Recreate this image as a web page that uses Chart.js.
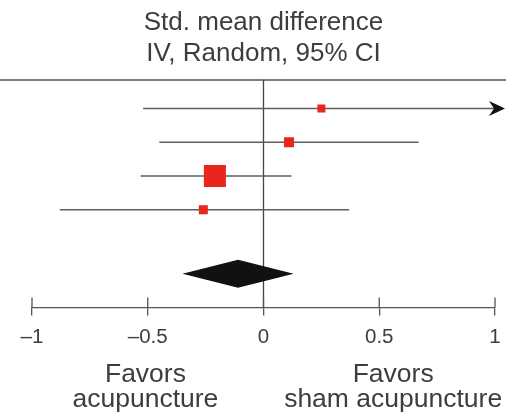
<!DOCTYPE html>
<html lang="en">
<head>
  <meta charset="UTF-8">
  <title>Forest plot</title>
  <script src="https://cdn.jsdelivr.net/npm/chart.js"></script>
  <style>
    html, body {
      margin: 0;
      padding: 0;
      background: #ffffff;
    }
    .wrap {
      position: relative;
      width: 506px;
      height: 412px;
    }
  </style>
</head>
<body>

<div class="wrap">
  <canvas id="forest"></canvas>
</div>

<script>
  // study rows (top to bottom)
  const rows = [1, 2, 3, 4];
  const estimates = [0.25, 0.11, -0.21, -0.26];
  const lowerCI = [-0.52, -0.45, -0.53, -0.88];
  const upperCI = [1.10, 0.67, 0.12, 0.37];   // first one runs off the scale
  const boxSide = [8, 10, 22, 9];             // weight squares, px

  // pooled estimate: lower, estimate, upper
  const pooledCI = [-0.35, -0.11, 0.13];
  const pooledRow = 5.9;

  const xTicks = [-1, -0.5, 0, 0.5, 1];
  const titleLines = ['Std. mean difference', 'IV, Random, 95% CI'];
  const favorLeft = ['Favors', 'acupuncture'];
  const favorRight = ['Favors', 'sham acupuncture'];
  const favorAt = [-0.51, 0.56];

  const textColor = '#3d3d3d';
  const fontName = '"Liberation Sans", Arial, Helvetica, sans-serif';

  const xMin = -1, xMax = 1;

  let datasets = [];
  // red squares on top
  datasets.push({
    type: 'scatter',
    data: rows.map((r, i) => ({x: estimates[i], y: r})),
    pointStyle: 'rect',
    pointRadius: boxSide.map(s => s / Math.SQRT2),
    pointBackgroundColor: 'rgb(232, 38, 28)',
    pointBorderWidth: 0,
    order: 0
  });
  // CI lines
  rows.forEach((r, i) => {
    datasets.push({
      type: 'line',
      data: [{x: lowerCI[i], y: r}, {x: Math.min(upperCI[i], xMax), y: r}],
      borderColor: '#5e5e5e',
      borderWidth: 1.5,
      pointRadius: 0,
      clip: false,
      order: 1
    });
  });

  const forestExtras = {
    id: 'forestExtras',
    beforeDatasetsDraw(chart) {
      const ctx = chart.ctx;
      const area = chart.chartArea;
      const xs = chart.scales.x;
      ctx.save();
      // top rule across the whole figure
      ctx.strokeStyle = '#555';
      ctx.lineWidth = 1.5;
      ctx.beginPath();
      ctx.moveTo(0, area.top);
      ctx.lineTo(chart.width, area.top);
      ctx.stroke();
      // line of no effect
      const x0 = xs.getPixelForValue(0);
      ctx.strokeStyle = '#444';
      ctx.lineWidth = 1.3;
      ctx.beginPath();
      ctx.moveTo(x0, area.top);
      ctx.lineTo(x0, area.bottom);
      ctx.stroke();
      ctx.restore();
    },
    afterDatasetsDraw(chart) {
      const ctx = chart.ctx;
      const area = chart.chartArea;
      const xs = chart.scales.x;
      const ys = chart.scales.y;
      ctx.save();

      // arrows for intervals that go past the axis
      ctx.fillStyle = '#111';
      rows.forEach((r, i) => {
        if (upperCI[i] <= xMax) return;
        const y = ys.getPixelForValue(r);
        const tip = xs.getPixelForValue(xMax) + 10;
        ctx.beginPath();
        ctx.moveTo(tip, y);
        ctx.lineTo(tip - 16, y - 7.5);
        ctx.lineTo(tip - 11, y);
        ctx.lineTo(tip - 16, y + 7.5);
        ctx.closePath();
        ctx.fill();
      });

      // pooled diamond
      const yd = ys.getPixelForValue(pooledRow);
      ctx.fillStyle = '#111';
      ctx.beginPath();
      ctx.moveTo(xs.getPixelForValue(pooledCI[0]), yd);
      ctx.lineTo(xs.getPixelForValue(pooledCI[1]), yd - 14);
      ctx.lineTo(xs.getPixelForValue(pooledCI[2]), yd);
      ctx.lineTo(xs.getPixelForValue(pooledCI[1]), yd + 14);
      ctx.closePath();
      ctx.fill();

      // upper halves of the axis ticks
      ctx.strokeStyle = '#555';
      ctx.lineWidth = 1.3;
      xTicks.forEach(t => {
        const x = xs.getPixelForValue(t);
        ctx.beginPath();
        ctx.moveTo(x, area.bottom - 10);
        ctx.lineTo(x, area.bottom);
        ctx.stroke();
      });

      // "favors" labels
      ctx.fillStyle = textColor;
      ctx.font = '26.5px ' + fontName;
      ctx.textAlign = 'center';
      ctx.textBaseline = 'alphabetic';
      [favorLeft, favorRight].forEach((lines, k) => {
        const x = xs.getPixelForValue(favorAt[k]);
        ctx.fillText(lines[0], x, 382);
        ctx.fillText(lines[1], x, 407);
      });
      ctx.restore();
    }
  };

  const config = {
    type: 'scatter',
    data: {datasets: datasets},
    options: {
      responsive: true,
      maintainAspectRatio: false,
      animation: false,
      layout: {
        autoPadding: false,
        padding: {left: 32, right: 11, top: 0, bottom: 52}
      },
      plugins: {
        legend: {display: false},
        tooltip: {enabled: false},
        title: {
          display: true,
          text: titleLines,
          color: textColor,
          font: {family: fontName, size: 26, weight: 'normal', lineHeight: 1.19},
          padding: {top: 7, bottom: 11}
        }
      },
      scales: {
        x: {
          type: 'linear',
          min: xMin,
          max: xMax,
          afterBuildTicks: (axis) => {
            axis.ticks = xTicks.map(v => ({value: v}));
          },
          afterFit: (axis) => {
            // end labels may hang into the side margins
            axis.paddingLeft = 0;
            axis.paddingRight = 0;
          },
          ticks: {
            color: textColor,
            padding: 10,
            font: {family: fontName, size: 20.5},
            callback: (v) => String(v).replace('-', '\u2013')
          },
          grid: {
            drawOnChartArea: false,
            drawTicks: true,
            tickLength: 8,
            color: '#555',
            lineWidth: 1.3
          },
          border: {display: true, color: '#555', width: 1.3}
        },
        y: {
          type: 'linear',
          reverse: true,
          min: 0.15,
          max: 6.9,
          display: false
        }
      }
    },
    plugins: [forestExtras]
  };

  new Chart(document.getElementById('forest'), config);
</script>

</body>
</html>
